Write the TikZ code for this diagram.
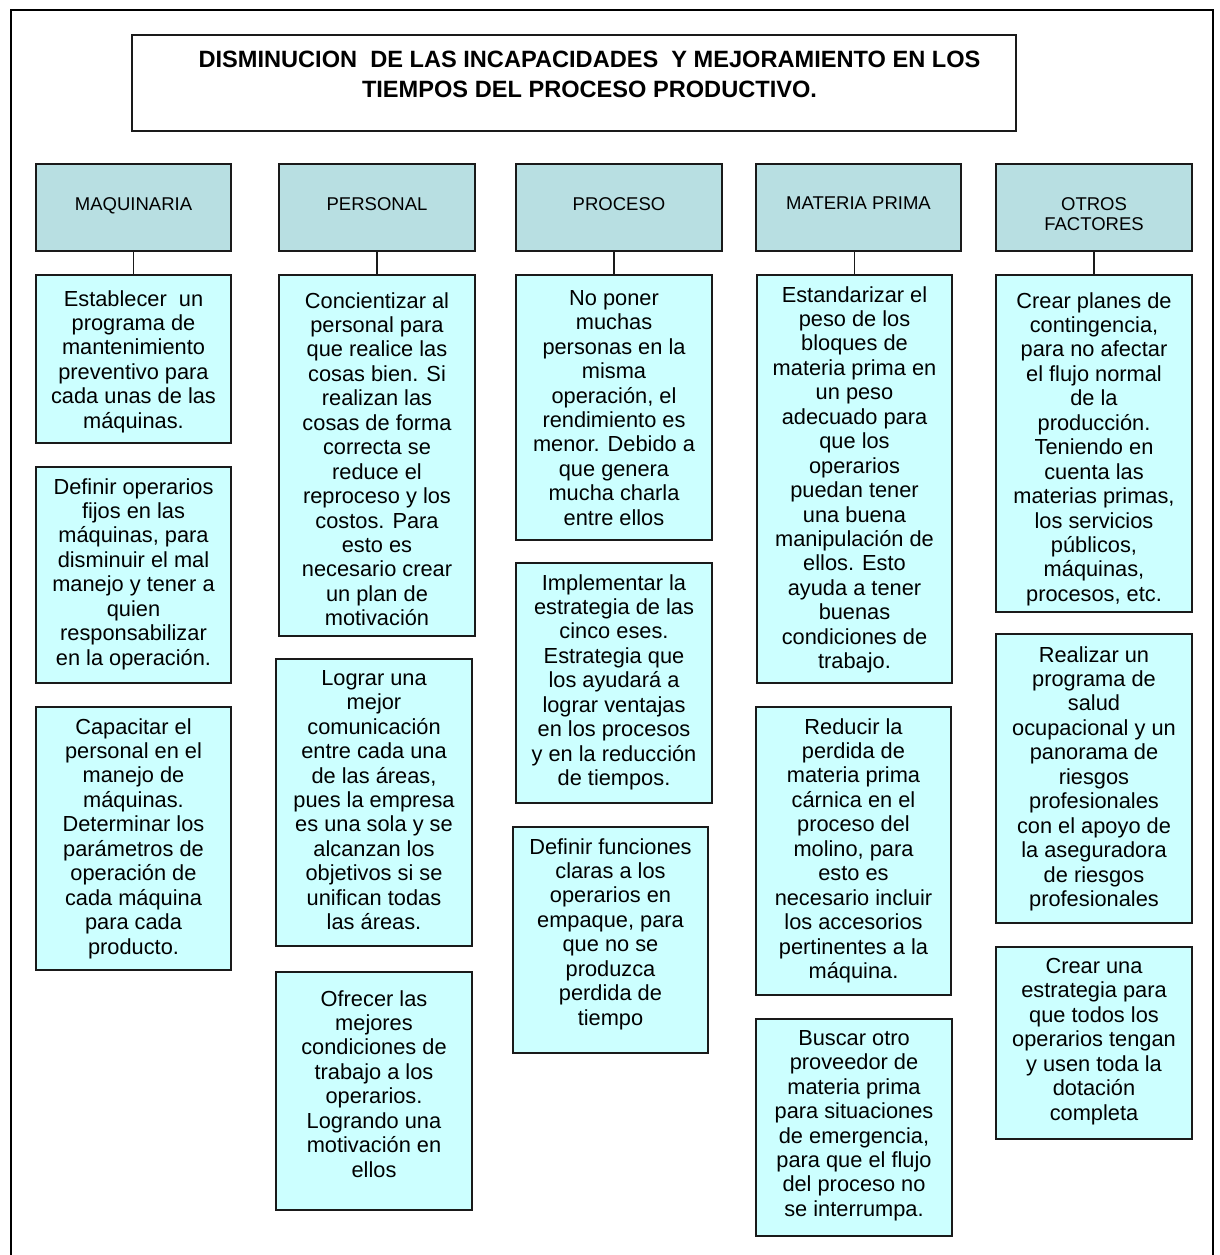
\documentclass[tikz,border=0pt]{standalone}
\usepackage{fontspec}
\setmainfont{Liberation Sans}

\definecolor{headfill}{HTML}{B8DFE2}
\definecolor{itemfill}{HTML}{CCFFFF}
\definecolor{edge}{HTML}{1A1A1A}

\tikzset{
  frame/.style={draw=black, line width=2.2pt},
  cardbase/.style={draw=edge, line width=2pt, inner sep=0pt, outer sep=0pt},
  titlebox/.style={cardbase, fill=white},
  headbox/.style={cardbase, fill=headfill},
  itembox/.style={cardbase, fill=itemfill},
  titletext/.style={anchor=north, inner sep=0pt, align=center,
    font=\bfseries\fontsize{23.6}{30}\selectfont},
  headtext/.style={anchor=north, inner sep=0pt, align=center,
    font=\fontsize{18.5}{20.7}\selectfont},
  bodytext/.style={anchor=north, inner sep=0pt, align=center,
    font=\fontsize{21.8}{24.45}\selectfont},
  link/.style={draw=edge, line width=1.6pt}
}

% category header: name, left x, right x, label
\newcommand\headcard[4]{%
  \node[headbox, minimum width={#3-#2}, minimum height=87, anchor=north west] (#1) at (#2,164) {};
  \node[headtext] (#1-text) at ({(#2+#3)/2},197) {#4};
}
% item card: name, left x, top y, right x, bottom y, first line centre y, text
\newcommand\itemcard[7]{%
  \node[itembox, minimum width={#4-#2}, minimum height={#5-#3}, anchor=north west] (#1) at (#2,#3) {};
  \node[bodytext] (#1-text) at ({(#2+#4)/2},{#6-8}) {#7};
}

\begin{document}
\begin{tikzpicture}[x=1pt, y=-1pt]
  \fill[white] (0,0) rectangle (1220,1255);
  \useasboundingbox (0,0) rectangle (1220,1255);

  % page frame, open at the bottom
  \draw[frame] (11,1262) -- (11,10) -- (1213,10) -- (1213,1262);

  % title
  \node[titlebox, minimum width=884, minimum height=96, anchor=north west] (title) at (132,35) {};
  \node[titletext] (title-text) at (589.5,51)
    {DISMINUCION\ \ DE LAS INCAPACIDADES\ \ Y MEJORAMIENTO EN LOS\\TIEMPOS DEL PROCESO PRODUCTIVO.};

  % category headers
  \headcard{maq}{36}{231}{MAQUINARIA}
  \headcard{per}{279}{475}{PERSONAL}
  \headcard{pro}{516}{722}{PROCESO}
  \headcard{mat}{756}{961}{MATERIA PRIMA}
  \headcard{otr}{996}{1192}{OTROS\\FACTORES}

  % MAQUINARIA
  \itemcard{maq1}{36}{275}{231}{443}{298}
    {Establecer\ \ un\\programa de\\mantenimiento\\preventivo para\\cada unas de las\\máquinas.}
  \itemcard{maq2}{36}{467}{231}{683}{486}
    {Definir operarios\\fijos en las\\máquinas, para\\disminuir el mal\\manejo y tener a\\quien\\responsabilizar\\en la operación.}
  \itemcard{maq3}{36}{707}{231}{970}{726}
    {Capacitar el\\personal en el\\manejo de\\máquinas.\\Determinar los\\parámetros de\\operación de\\cada máquina\\para cada\\producto.}

  % PERSONAL
  \itemcard{per1}{279}{275}{475}{636}{300}
    {Concientizar al\\personal para\\que realice las\\cosas bien. Si\\realizan las\\cosas de forma\\correcta se\\reduce el\\reproceso y los\\costos. Para\\esto es\\necesario crear\\un plan de\\motivación}
  \itemcard{per2}{276}{659}{472}{946}{678}
    {Lograr una\\mejor\\comunicación\\entre cada una\\de las áreas,\\pues la empresa\\es una sola y se\\alcanzan los\\objetivos si se\\unifican todas\\las áreas.}
  \itemcard{per3}{276}{972}{472}{1210}{998}
    {Ofrecer las\\mejores\\condiciones de\\trabajo a los\\operarios.\\Logrando una\\motivación en\\ellos}

  % PROCESO
  \itemcard{pro1}{516}{275}{712}{540}{298}
    {No poner\\muchas\\personas en la\\misma\\operación, el\\rendimiento es\\menor. Debido a\\que genera\\mucha charla\\entre ellos}
  \itemcard{pro2}{516}{563}{712}{803}{582}
    {Implementar la\\estrategia de las\\cinco eses.\\Estrategia que\\los ayudará a\\lograr ventajas\\en los procesos\\y en la reducción\\de tiempos.}
  \itemcard{pro3}{513}{827}{708}{1053}{846}
    {Definir funciones\\claras a los\\operarios en\\empaque, para\\que no se\\produzca\\perdida de\\tiempo}

  % MATERIA PRIMA
  \itemcard{mat1}{757}{275}{952}{683}{294}
    {Estandarizar el\\peso de los\\bloques de\\materia prima en\\un peso\\adecuado para\\que los\\operarios\\puedan tener\\una buena\\manipulación de\\ellos. Esto\\ayuda a tener\\buenas\\condiciones de\\trabajo.}
  \itemcard{mat2}{756}{707}{951}{995}{726}
    {Reducir la\\perdida de\\materia prima\\cárnica en el\\proceso del\\molino, para\\esto es\\necesario incluir\\los accesorios\\pertinentes a la\\máquina.}
  \itemcard{mat3}{756}{1019}{952}{1236}{1038}
    {Buscar otro\\proveedor de\\materia prima\\para situaciones\\de emergencia,\\para que el flujo\\del proceso no\\se interrumpa.}

  % OTROS FACTORES
  \itemcard{otr1}{996}{275}{1192}{612}{300}
    {Crear planes de\\contingencia,\\para no afectar\\el flujo normal\\de la\\producción.\\Teniendo en\\cuenta las\\materias primas,\\los servicios\\públicos,\\máquinas,\\procesos, etc.}
  \itemcard{otr2}{996}{634}{1192}{923}{654}
    {Realizar un\\programa de\\salud\\ocupacional y un\\panorama de\\riesgos\\profesionales\\con el apoyo de\\la aseguradora\\de riesgos\\profesionales}
  \itemcard{otr3}{996}{947}{1192}{1139}{966}
    {Crear una\\estrategia para\\que todos los\\operarios tengan\\y usen toda la\\dotación\\completa}

  % header-to-first-card connectors
  \foreach \c in {maq,per,pro,mat,otr}
    \draw[link] (\c1.north) -- (\c1.north |- \c.south);
\end{tikzpicture}
\end{document}
